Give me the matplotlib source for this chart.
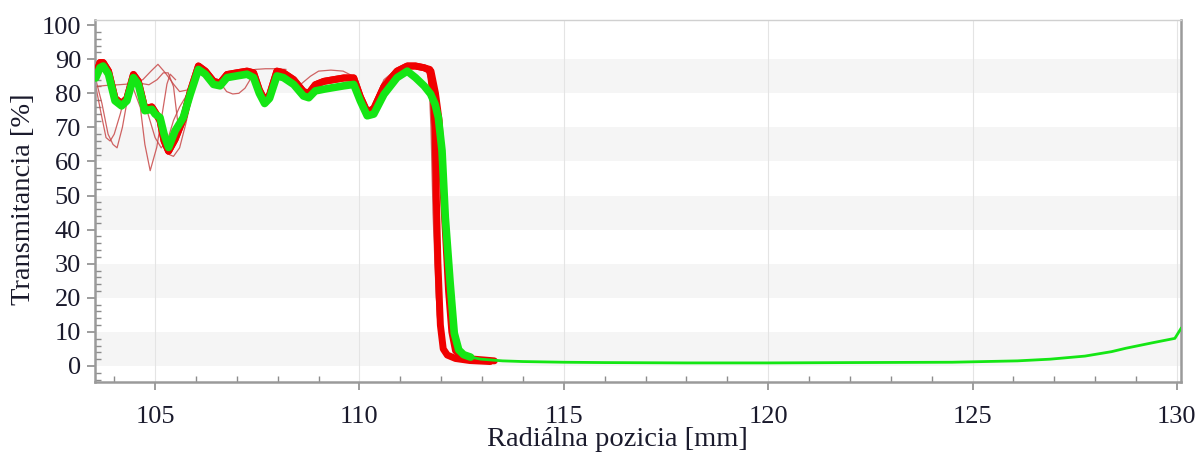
import matplotlib

matplotlib.use("Agg")
import matplotlib.pyplot as plt
from matplotlib.ticker import MultipleLocator

# shared x positions of the plateau part (mm)
plateau_x = [103.55, 103.65, 103.73, 103.86, 104.02, 104.18, 104.31, 104.47, 104.59, 104.75,
             104.92, 105.0, 105.12, 105.22, 105.33, 105.49, 105.69, 105.86, 106.06, 106.23,
             106.43, 106.59, 106.76, 107.0, 107.25, 107.41, 107.55, 107.68, 107.8, 107.98,
             108.14, 108.39, 108.63, 108.76, 108.92, 109.13, 109.37, 109.62, 109.86, 110.02,
             110.19, 110.35, 110.6, 110.92, 111.17, 111.37, 111.58]

green_plateau = [84.5, 87.5, 88.0, 85.6, 77.8, 76.3, 77.8, 84.6, 82.6, 74.9,
                 75.3, 73.9, 72.9, 68.0, 64.1, 69.0, 72.9, 79.7, 87.0, 85.6,
                 82.6, 82.2, 84.6, 85.1, 85.6, 84.6, 80.0, 77.0, 78.5, 85.1,
                 84.6, 82.6, 79.2, 78.7, 80.7, 81.2, 81.7, 82.2, 82.6, 77.8,
                 73.4, 73.9, 79.7, 84.6, 86.5, 84.6, 82.2]

red_plateau = [85.5, 89.0, 89.0, 86.5, 78.5, 77.0, 78.5, 85.5, 83.5, 75.5,
               76.0, 74.5, 72.0, 66.0, 63.0, 66.5, 72.5, 80.5, 88.0, 86.5,
               83.5, 83.0, 85.5, 86.0, 86.5, 86.0, 81.0, 78.0, 79.5, 86.5,
               86.0, 84.0, 80.5, 80.0, 82.5, 83.5, 84.0, 84.5, 84.5, 79.0,
               74.5, 75.5, 82.0, 86.5, 88.0, 88.0, 87.5]

# edge drop and long tail
green_tail_x = [111.74, 111.85, 111.93, 112.02, 112.1, 112.22, 112.32, 112.43, 112.55, 112.72,
                112.97, 113.5, 114.0, 115.0, 116.0, 118.0, 120.0, 122.0, 124.5, 126.1,
                126.9, 127.75, 128.4, 128.75, 129.4, 129.95, 130.1]
green_tail_y = [79.8, 76.8, 72.9, 63.2, 43.7, 24.2, 9.6, 4.7, 3.3, 2.6,
                2.0, 1.5, 1.3, 1.1, 1.0, 0.9, 0.9, 1.0, 1.1, 1.5,
                2.0, 2.9, 4.2, 5.2, 6.8, 8.1, 11.0]

red_a_x = [111.72, 111.8, 111.85, 111.88, 111.92, 111.98, 112.05, 112.15, 112.35, 112.7, 113.2]
red_a_y = [87.0, 80.0, 70.0, 50.0, 30.0, 12.0, 5.0, 3.2, 2.2, 1.6, 1.3]
red_b_x = [111.75, 111.86, 111.95, 112.03, 112.1, 112.18, 112.26, 112.35, 112.5, 112.8, 113.3]
red_b_y = [86.5, 80.0, 72.0, 55.0, 40.0, 22.0, 10.0, 4.5, 2.8, 2.0, 1.5]

# single deviating measurements (thin red lines)
outliers = [
    ([103.55, 103.7, 103.85, 103.97, 104.07, 104.2, 104.35, 104.47],
     [84, 77, 68, 65, 64, 70, 80, 84.5]),
    ([103.55, 103.68, 103.8, 103.9, 104.0, 104.15, 104.3, 104.45],
     [82, 74, 67, 66, 68, 74, 81, 84.5]),
    ([103.55, 103.8, 104.1, 104.45, 104.7, 104.9, 105.07, 105.25, 105.45, 105.6, 105.8, 106.0],
     [82, 82.3, 82.5, 82.8, 84, 86.5, 88.5, 86, 82.7, 80.5, 81, 86]),
    ([104.6, 104.85, 105.05, 105.2, 105.32, 105.45, 105.55, 105.65, 105.8],
     [83, 82.5, 84, 86, 86, 82, 72, 70, 76]),
    ([104.45, 104.64, 104.75, 104.88, 105.04, 105.16, 105.29, 105.37, 105.5],
     [82, 75.8, 65, 57.3, 64.1, 72.9, 82.7, 85.6, 84]),
    ([104.6, 104.8, 105.0, 105.15, 105.3, 105.45, 105.6, 105.8],
     [82, 75, 67, 64, 66, 72, 76, 80]),
    ([105.0, 105.2, 105.35, 105.45, 105.6, 105.75, 105.9],
     [76, 68, 62, 61.5, 64, 71, 79]),
    ([106.6, 106.75, 106.9, 107.05, 107.2, 107.35],
     [83, 80.5, 79.8, 80, 81.5, 84.5]),
    ([107.2, 107.45, 107.7, 107.95, 108.2],
     [86, 87, 87.2, 87.2, 87]),
    ([108.5, 108.8, 109.0, 109.3, 109.6, 109.85],
     [82, 85, 86.5, 86.8, 86.5, 85]),
    ([110.3, 110.45, 110.6, 110.8, 111.0, 111.2, 111.4, 111.55, 111.7],
     [75, 80, 84, 86, 87, 88, 88.5, 88, 86]),
    ([110.35, 110.5, 110.7, 110.9, 111.1, 111.3, 111.5],
     [74, 77, 82, 85.5, 87, 87.5, 87]),
    ([111.6, 111.7, 111.75, 111.8, 111.88, 111.98, 112.1],
     [88, 84, 70, 45, 20, 7, 3.5]),
    ([111.65, 111.74, 111.78, 111.83, 111.9, 112.0, 112.15],
     [87, 82, 65, 40, 15, 5.5, 3.0]),
]

x_ticks = [105, 110, 115, 120, 125, 130]
y_ticks = [0, 10, 20, 30, 40, 50, 60, 70, 80, 90, 100]

plt.rcParams["font.family"] = ["Liberation Serif", "DejaVu Serif"]
text_color = "#1a1a2c"

fig = plt.figure(figsize=(11.99, 4.59), dpi=100)
ax = fig.add_axes([95 / 1199, 77 / 459, 1086 / 1199, 362 / 459])

# alternating background bands
for lo in y_ticks[:-1:2]:
    ax.axhspan(lo, lo + 10, color="#f5f5f5", lw=0, zorder=0)
for xv in x_ticks:
    ax.axvline(xv, color="#e4e4e4", lw=0.8, zorder=0.5)

for ox, oy in outliers:
    ax.plot(ox, oy, color="#c84848", lw=0.9, alpha=0.85, zorder=2)

for rx, ry in ((red_a_x, red_a_y), (red_b_x, red_b_y)):
    ax.plot(plateau_x + rx, red_plateau + ry, color="#f00000", lw=5.0,
            solid_joinstyle="round", solid_capstyle="round", zorder=3)

green = "#14e614"
ax.plot(plateau_x + green_tail_x[:10], green_plateau + green_tail_y[:10], color=green,
        lw=5.5, solid_joinstyle="round", solid_capstyle="round", zorder=4)
ax.plot(green_tail_x[8:], green_tail_y[8:], color=green, lw=2.0,
        solid_joinstyle="round", zorder=5)

ax.set_xlim(103.53, 130.1)
ax.set_ylim(-4.7, 101.5)
ax.set_xticks(x_ticks)
ax.set_yticks(y_ticks)
ax.xaxis.set_minor_locator(MultipleLocator(1))
ax.yaxis.set_minor_locator(MultipleLocator(2))

ax.tick_params(axis="both", which="major", direction="out", length=6, width=1.2,
               color="#8c8c8c", labelsize=19, labelcolor=text_color, pad=4)
ax.tick_params(axis="both", which="minor", direction="in", length=4, width=1.0,
               color="#8c8c8c")
ax.tick_params(axis="x", which="major", pad=11)

for side in ("left", "bottom", "right"):
    ax.spines[side].set_color("#9a9a9a")
    ax.spines[side].set_linewidth(1.8)
ax.spines["top"].set_color("#d0d0d0")
ax.spines["top"].set_linewidth(1.0)

fig.text(617 / 1199, 1 - 440 / 459, "Radiálna pozicia [mm]", ha="center", va="center",
         fontsize=20.5, color=text_color)
fig.text(24 / 1199, 1 - 199 / 459, "Transmitancia [%]", ha="center", va="center",
         rotation=90, fontsize=20.5, color=text_color)

fig.savefig("out.png", dpi=100)
